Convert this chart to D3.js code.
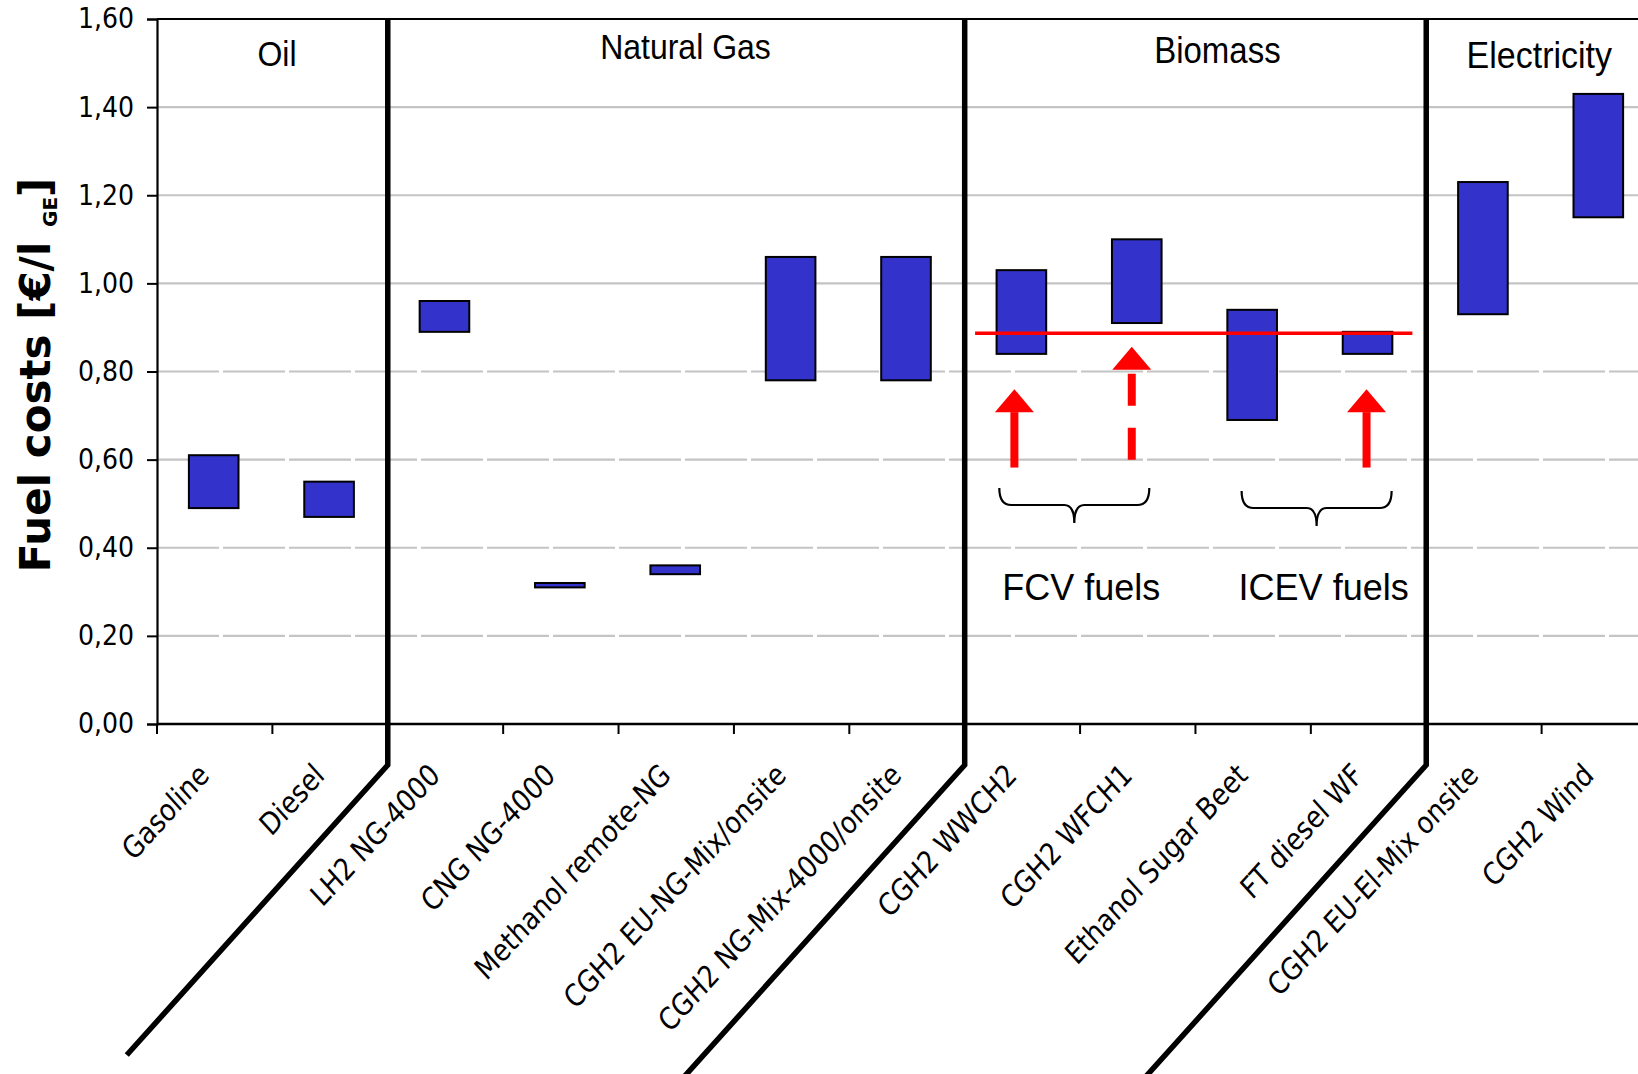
<!DOCTYPE html>
<html>
<head>
<meta charset="utf-8">
<script src="https://cdn.jsdelivr.net/npm/d3@7"></script>
<style>
  html, body { margin: 0; padding: 0; background: #fff; overflow: hidden; }
  svg { display: block; }
</style>
</head>
<body>
<svg id="chart" width="1638" height="1074"></svg>
<script>
// ---------------- DATA ----------------
const categories = ["Gasoline", "Diesel", "LH2 NG-4000", "CNG NG-4000", "Methanol remote-NG",
  "CGH2 EU-NG-Mix/onsite", "CGH2 NG-Mix-4000/onsite", "CGH2 WWCH2", "CGH2 WFCH1",
  "Ethanol Sugar Beet", "FT diesel WF", "CGH2 EU-El-Mix onsite", "CGH2 Wind"];
const costMin = [0.49, 0.47, 0.89, 0.31, 0.34, 0.78, 0.78, 0.84, 0.91, 0.69, 0.84, 0.93, 1.15];
const costMax = [0.61, 0.55, 0.96, 0.32, 0.36, 1.06, 1.06, 1.03, 1.10, 0.94, 0.89, 1.23, 1.43];
const yTicks = [0, 0.2, 0.4, 0.6, 0.8, 1.0, 1.2, 1.4, 1.6];
const groupNames = ["Oil", "Natural Gas", "Biomass", "Electricity"];
const groupFirst = ["Gasoline", "LH2 NG-4000", "CGH2 WWCH2", "CGH2 EU-El-Mix onsite"];
const referenceCost = 0.887;
const arrowCategory = ["CGH2 WWCH2", "CGH2 WFCH1", "FT diesel WF"];
const arrowTip = [0.76, 0.856, 0.76];
const arrowTail = [0.582, 0.595, 0.582];
const arrowDashed = [false, true, false];
const braceNames = ["FCV fuels", "ICEV fuels"];
const yTitle = "Fuel costs [€/l ";
const yTitleSub = "GE";

// ---------------- LAYOUT ----------------
const svg = d3.select("#chart");
const X0 = 157, X1 = 1657, Y0 = 724, Y1 = 19;
const x = d3.scaleBand().domain(categories).range([X0, X1]).padding(0);
const y = d3.scaleLinear().domain([0, 1.6]).range([Y0, Y1]);
const bw = x.bandwidth();
const pos = u => X0 + u * bw;          // fractional category position
const fmt = d3.formatLocale({decimal: ",", thousands: ".", grouping: [3], currency: ["", "€"]}).format(".2f");
const STRETCH = 1.1;

// gridlines
svg.append("g").selectAll("line").data(yTicks.filter(d => d > 0 && d < 1.6)).join("line")
  .attr("x1", X0).attr("x2", X1).attr("y1", d => y(d)).attr("y2", d => y(d))
  .attr("stroke", "#c4c4c4").attr("stroke-width", 2.2)
  .attr("stroke-dasharray", d => d <= 0.81 ? "62,4" : null);

// top border
svg.append("line").attr("x1", X0).attr("x2", X1).attr("y1", Y1).attr("y2", Y1)
  .attr("stroke", "#000").attr("stroke-width", 2.2);

// y axis
const yAxis = svg.append("g").attr("transform", `translate(${X0},0)`)
  .call(d3.axisLeft(y).tickValues(yTicks).tickFormat(fmt).tickSize(10).tickPadding(13));
yAxis.select(".domain").attr("stroke", "#000").attr("stroke-width", 2.2);
yAxis.selectAll(".tick line").attr("stroke", "#000").attr("stroke-width", 2);
yAxis.selectAll(".tick text").attr("font-family", "'DejaVu Sans Condensed', 'DejaVu Sans', sans-serif")
  .attr("font-size", 28).attr("fill", "#000");

// x axis (ticks at band boundaries)
const bounds = d3.range(categories.length + 1).map(i => pos(i));
svg.append("line").attr("x1", X0).attr("x2", X1).attr("y1", Y0).attr("y2", Y0)
  .attr("stroke", "#000").attr("stroke-width", 2.6);
svg.append("g").selectAll("line").data(bounds).join("line")
  .attr("x1", d => d).attr("x2", d => d).attr("y1", Y0).attr("y2", Y0 + 10)
  .attr("stroke", "#000").attr("stroke-width", 2);

// category labels
svg.append("g").selectAll("text").data(categories).join("text")
  .attr("transform", d => `translate(${x(d) + bw / 2 - 4},777) scale(1,${STRETCH}) rotate(-45)`)
  .attr("text-anchor", "end")
  .attr("font-family", "'DejaVu Sans Condensed', 'DejaVu Sans', sans-serif")
  .attr("font-size", 28).attr("fill", "#000")
  .text(d => d);

// bars (floating min-max)
const barW = bw * 0.43;
svg.append("g").selectAll("rect").data(categories).join("rect")
  .attr("x", d => x(d) + bw / 2 - barW / 2 - 1)
  .attr("width", barW)
  .attr("y", (d, i) => y(costMax[i]))
  .attr("height", (d, i) => y(costMin[i]) - y(costMax[i]))
  .attr("fill", "#3333cc").attr("stroke", "#000").attr("stroke-width", 2);

// group dividers (vertical + slanted into label area)
const divY = 765, divSlope = 0.9;
groupFirst.slice(1).forEach((c, i) => {
  const xd = x(c);
  const yEnd = i === 0 ? 1055 : 1090;
  svg.append("path")
    .attr("d", `M${xd},${Y1} L${xd},${divY} L${xd - divSlope * (yEnd - divY)},${yEnd}`)
    .attr("fill", "none").attr("stroke", "#000").attr("stroke-width", 5.5)
    .attr("stroke-linejoin", "miter");
});

// group titles
const titleU = [1.04, 4.58, 9.19, 11.98];
const titleY = [66, 59, 63, 68];
const titleSize = [32, 32, 33, 34];
svg.append("g").selectAll("text").data(groupNames).join("text")
  .attr("transform", (d, i) => `translate(${pos(titleU[i])},${titleY[i]}) scale(1,${STRETCH})`)
  .attr("text-anchor", "middle")
  .attr("font-family", "'Liberation Sans', Arial, sans-serif")
  .attr("font-size", (d, i) => titleSize[i]).attr("fill", "#000")
  .text(d => d);

// y-axis title
const yt = svg.append("text")
  .attr("transform", `translate(50,375) rotate(-90)`)
  .attr("text-anchor", "middle")
  .attr("font-family", "'DejaVu Sans', Verdana, sans-serif")
  .attr("font-weight", "bold").attr("font-size", 42).attr("fill", "#000");
yt.append("tspan").text(yTitle);
yt.append("tspan").attr("font-size", 20).attr("dy", 7).text(yTitleSub);
yt.append("tspan").attr("dy", -7).text("]");

// reference line
svg.append("line")
  .attr("x1", pos(7.09)).attr("x2", pos(10.88))
  .attr("y1", y(referenceCost)).attr("y2", y(referenceCost))
  .attr("stroke", "#ff0000").attr("stroke-width", 3.5);

// arrows
const arrowDx = [-8, -6, -2];
arrowCategory.forEach((c, i) => {
  const ax = x(c) + bw / 2 + arrowDx[i];
  const tip = y(arrowTip[i]);
  const base = tip + 23;
  svg.append("path")
    .attr("d", `M${ax},${tip} L${ax + 19.5},${base} L${ax - 19.5},${base} Z`)
    .attr("fill", "#ff0000");
  svg.append("line")
    .attr("x1", ax).attr("x2", ax)
    .attr("y1", arrowDashed[i] ? base + 4 : base).attr("y2", y(arrowTail[i]))
    .attr("stroke", "#ff0000").attr("stroke-width", 8)
    .attr("stroke-dasharray", arrowDashed[i] ? "32,22" : null);
});

// braces
const braceFrom = [7.3, 9.4], braceTo = [8.6, 10.7], braceTop = [488, 491], braceTextDx = [3, -3];
braceNames.forEach((name, i) => {
  const a = pos(braceFrom[i]), b = pos(braceTo[i]), m = (a + b) / 2;
  const t = braceTop[i], h = t + 17, p = t + 35, r = 12;
  const d = `M${a},${t} Q${a},${h} ${a + r},${h} L${m - 10},${h} Q${m},${h} ${m},${p} ` +
            `Q${m},${h} ${m + 10},${h} L${b - r},${h} Q${b},${h} ${b},${t}`;
  svg.append("path").attr("d", d).attr("fill", "none").attr("stroke", "#000").attr("stroke-width", 2.2);
  svg.append("text").attr("x", a + braceTextDx[i]).attr("y", 600)
    .attr("font-family", "'Liberation Sans', Arial, sans-serif")
    .attr("font-size", 36).attr("fill", "#000").text(name);
});
</script>
</body>
</html>
